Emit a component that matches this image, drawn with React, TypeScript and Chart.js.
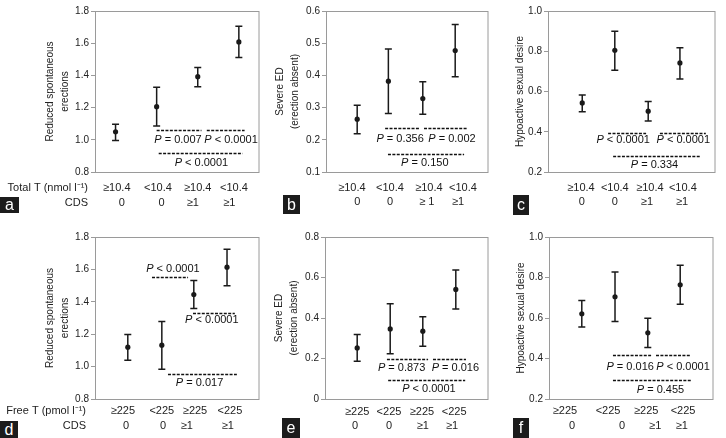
import React, { useEffect, useRef } from "react";
import { Chart, registerables } from "chart.js";

Chart.register(...registerables);

const FONT = "'Liberation Sans', Arial, Helvetica, sans-serif";
Chart.defaults.font.family = FONT;

// ---------- DATA ----------
const topRow1 = ["≥10.4", "<10.4", "≥10.4", "<10.4"];
const botRow1 = ["≥225", "<225", "≥225", "<225"];
const cdsRow = ["0", "0", "≥1", "≥1"];
const cdsRowB = ["0", "0", "≥ 1", "≥1"];
const topHeaders = ["Total T (nmol l\u207B\u00B9)", "CDS"];
const botHeaders = ["Free T (pmol l\u207B\u00B9)", "CDS"];
const titleErections = ["Reduced spontaneous", "erections"];
const titleSevere = ["Severe ED", "(erection absent)"];
const titleDesire = "Hypoactive sexual desire";

// panel a
const aX = [0.5, 1.5, 2.5, 3.5];
const aMean = [1.05, 1.206, 1.392, 1.608];
const aLow = [0.995, 1.085, 1.33, 1.511];
const aHigh = [1.097, 1.326, 1.449, 1.705];
const aRow1X = [0.53, 1.53, 2.5, 3.38];
const aRow2X = [0.65, 1.62, 2.38, 3.27];
const aDashes = [[1.5, 2.59, 1.058], [2.72, 3.64, 1.058], [1.55, 3.59, 0.92]];
const aP: [string, number, number][] = [["P = 0.007", 2.02, 1.0], ["P < 0.0001", 3.31, 1.0], ["P < 0.0001", 2.59, 0.858]];

// panel b
const bX = [0.77, 1.54, 2.39, 3.19];
const bMean = [0.264, 0.382, 0.328, 0.477];
const bLow = [0.219, 0.282, 0.279, 0.396];
const bHigh = [0.307, 0.482, 0.38, 0.558];
const bRow1X = [0.64, 1.58, 2.54, 3.38];
const bRow2X = [0.77, 1.58, 2.49, 3.26];
const bDashes = [[1.46, 2.3, 0.236], [2.42, 3.48, 0.236], [1.53, 3.41, 0.156]];
const bP: [string, number, number][] = [["P = 0.356", 1.83, 0.202], ["P = 0.002", 3.11, 0.202], ["P = 0.150", 2.44, 0.128]];

// panel c
const cX = [0.82, 1.6, 2.4, 3.16];
const cMean = [0.543, 0.805, 0.502, 0.742];
const cLow = [0.5, 0.705, 0.453, 0.662];
const cHigh = [0.583, 0.899, 0.55, 0.818];
const cRow1X = [0.79, 1.6, 2.44, 3.23];
const cRow2X = [0.81, 1.6, 2.37, 3.21];
const cDashes = [[1.44, 2.35, 0.395], [2.68, 3.78, 0.395], [1.56, 3.64, 0.28]];
const cP: [string, number, number][] = [["P < 0.0001", 1.8, 0.357], ["P < 0.0001", 3.24, 0.357], ["P = 0.334", 2.55, 0.233]];

// panel d
const dX = [0.8, 1.63, 2.41, 3.22];
const dMean = [1.12, 1.132, 1.445, 1.614];
const dLow = [1.039, 0.983, 1.359, 1.499];
const dHigh = [1.198, 1.278, 1.532, 1.724];
const dRow1X = [0.68, 1.63, 2.44, 3.29];
const dRow2X = [0.76, 1.66, 2.24, 3.24];
const dDashes = [[1.39, 2.27, 1.555], [2.39, 3.41, 1.332], [1.78, 3.46, 0.957]];
const dP: [string, number, number][] = [["P < 0.0001", 1.9, 1.604], ["P < 0.0001", 2.85, 1.287], ["P = 0.017", 2.55, 0.897]];

// panel e
const eX = [0.79, 1.6, 2.4, 3.21];
const eMean = [0.252, 0.346, 0.335, 0.541];
const eLow = [0.186, 0.223, 0.261, 0.444];
const eHigh = [0.318, 0.47, 0.406, 0.637];
const eRow1X = [0.79, 1.57, 2.38, 3.17];
const eRow2X = [0.74, 1.57, 2.4, 3.12];
const eDashes = [[1.52, 2.53, 0.196], [2.65, 3.46, 0.196], [1.55, 3.44, 0.092]];
const eP: [string, number, number][] = [["P = 0.873", 1.88, 0.152], ["P = 0.016", 3.2, 0.152], ["P < 0.0001", 2.55, 0.051]];

// panel f
const fX = [0.8, 1.61, 2.41, 3.2];
const fMean = [0.621, 0.705, 0.527, 0.764];
const fLow = [0.555, 0.583, 0.454, 0.668];
const fHigh = [0.687, 0.827, 0.599, 0.86];
const fRow1X = [0.39, 1.44, 2.37, 3.27];
const fRow2X = [0.56, 1.78, 2.59, 3.24];
const fDashes = [[1.56, 2.49, 0.418], [2.61, 3.46, 0.418], [1.56, 3.46, 0.292]];
const fP: [string, number, number][] = [["P = 0.016", 1.98, 0.357], ["P < 0.0001", 3.27, 0.357], ["P = 0.455", 2.72, 0.246]];

const letterNames = ["a", "b", "c", "d", "e", "f"];

// ---------- LAYOUT ----------
type Spec = {
  key: string;
  box: number[]; // canvas left, top, width, height
  pad: number[]; // left, top, right, bottom
  yWidth: number;
  titlePad: number;
  yMin: number;
  yMax: number;
  yStep: number;
  title: string | string[];
  xs: number[];
  mean: number[];
  low: number[];
  high: number[];
  row1: string[];
  row1X: number[];
  row2: string[];
  row2X: number[];
  rowDy: number[];
  headers?: string[];
  headerX?: number;
  dashes: number[][];
  pvals: [string, number, number][];
};

const specs: Spec[] = [
  { key: "a", box: [0, 0, 262, 219], pad: [0, 11, 2, 47], yWidth: 95, titlePad: 42.5, yMin: 0.8, yMax: 1.8, yStep: 0.2, title: titleErections, xs: aX, mean: aMean, low: aLow, high: aHigh, row1: topRow1, row1X: aRow1X, row2: cdsRow, row2X: aRow2X, rowDy: [16, 31], headers: topHeaders, headerX: 88, dashes: aDashes, pvals: aP },
  { key: "b", box: [262, 0, 230, 219], pad: [0, 11, 4, 47], yWidth: 64, titlePad: 10.5, yMin: 0.1, yMax: 0.6, yStep: 0.1, title: titleSevere, xs: bX, mean: bMean, low: bLow, high: bHigh, row1: topRow1, row1X: bRow1X, row2: cdsRowB, row2X: bRow2X, rowDy: [16, 30], dashes: bDashes, pvals: bP },
  { key: "c", box: [492, 0, 234, 219], pad: [0, 11, 11, 47], yWidth: 56, titlePad: 20.5, yMin: 0.2, yMax: 1.0, yStep: 0.2, title: titleDesire, xs: cX, mean: cMean, low: cLow, high: cHigh, row1: topRow1, row1X: cRow1X, row2: cdsRow, row2X: cRow2X, rowDy: [16, 30], dashes: cDashes, pvals: cP },
  { key: "d", box: [0, 219, 262, 219], pad: [0, 18, 3, 39], yWidth: 95, titlePad: 42.5, yMin: 0.8, yMax: 1.8, yStep: 0.2, title: titleErections, xs: dX, mean: dMean, low: dLow, high: dHigh, row1: botRow1, row1X: dRow1X, row2: cdsRow, row2X: dRow2X, rowDy: [12, 27], headers: botHeaders, headerX: 86, dashes: dDashes, pvals: dP },
  { key: "e", box: [262, 219, 230, 219], pad: [0, 18, 4, 39], yWidth: 63, titlePad: 9.5, yMin: 0, yMax: 0.8, yStep: 0.2, title: titleSevere, xs: eX, mean: eMean, low: eLow, high: eHigh, row1: botRow1, row1X: eRow1X, row2: cdsRow, row2X: eRow2X, rowDy: [13, 27], dashes: eDashes, pvals: eP },
  { key: "f", box: [492, 219, 234, 219], pad: [0, 18, 13, 39], yWidth: 57, titlePad: 21.5, yMin: 0.2, yMax: 1.0, yStep: 0.2, title: titleDesire, xs: fX, mean: fMean, low: fLow, high: fHigh, row1: botRow1, row1X: fRow1X, row2: cdsRow, row2X: fRow2X, rowDy: [12, 27], dashes: fDashes, pvals: fP },
];

const letterBoxes = [
  [0, 197, 19, 16],
  [283, 195, 17, 19],
  [513, 195, 16, 20],
  [0, 421, 18, 17],
  [282, 418, 18, 20],
  [513, 418, 16, 20],
];

const INK = "#1a1a1a";
const FRAME = "#9a9a9a";

function makePlugin(spec: Spec) {
  return {
    id: "panelDraw" + spec.key,
    beforeDatasetsDraw(chart: any) {
      const ctx = chart.ctx;
      const xs = chart.scales.x;
      const ys = chart.scales.y;
      ctx.save();
      ctx.strokeStyle = INK;
      ctx.lineWidth = 1.5;
      for (let i = 0; i < spec.xs.length; i++) {
        const px = xs.getPixelForValue(spec.xs[i]);
        const yl = ys.getPixelForValue(spec.low[i]);
        const yh = ys.getPixelForValue(spec.high[i]);
        ctx.beginPath();
        ctx.moveTo(px, yh);
        ctx.lineTo(px, yl);
        ctx.moveTo(px - 3.5, yh);
        ctx.lineTo(px + 3.5, yh);
        ctx.moveTo(px - 3.5, yl);
        ctx.lineTo(px + 3.5, yl);
        ctx.stroke();
      }
      ctx.restore();
    },
    afterDraw(chart: any) {
      const ctx = chart.ctx;
      const xs = chart.scales.x;
      const ys = chart.scales.y;
      const ca = chart.chartArea;
      ctx.save();
      // frame
      ctx.strokeStyle = FRAME;
      ctx.lineWidth = 1;
      ctx.strokeRect(Math.round(ca.left) + 0.5, Math.round(ca.top) + 0.5, Math.round(ca.right - ca.left) - 0.5, Math.round(ca.bottom - ca.top));
      // dashed comparison lines
      ctx.strokeStyle = "#111";
      ctx.lineWidth = 1.3;
      ctx.setLineDash([3, 1.4]);
      for (const d of spec.dashes) {
        const y = Math.round(ys.getPixelForValue(d[2])) + 0.5;
        ctx.beginPath();
        ctx.moveTo(xs.getPixelForValue(d[0]), y);
        ctx.lineTo(xs.getPixelForValue(d[1]), y);
        ctx.stroke();
      }
      ctx.setLineDash([]);
      // P values
      ctx.fillStyle = "#111";
      ctx.textBaseline = "middle";
      ctx.textAlign = "left";
      for (const p of spec.pvals) {
        const txt = p[0];
        const head = txt.slice(0, 1);
        const rest = txt.slice(1);
        ctx.font = `italic 11px ${FONT}`;
        const w1 = ctx.measureText(head).width;
        ctx.font = `11px ${FONT}`;
        const w2 = ctx.measureText(rest).width;
        const cx = xs.getPixelForValue(p[1]);
        const cy = ys.getPixelForValue(p[2]);
        const x0 = cx - (w1 + w2) / 2;
        ctx.font = `italic 11px ${FONT}`;
        ctx.fillText(head, x0, cy);
        ctx.font = `11px ${FONT}`;
        ctx.fillText(rest, x0 + w1, cy);
      }
      // category label rows
      ctx.fillStyle = "#222";
      ctx.font = `11px ${FONT}`;
      ctx.textAlign = "center";
      const r1y = ca.bottom + spec.rowDy[0];
      const r2y = ca.bottom + spec.rowDy[1];
      spec.row1.forEach((t, i) => ctx.fillText(t, xs.getPixelForValue(spec.row1X[i]), r1y));
      spec.row2.forEach((t, i) => ctx.fillText(t, xs.getPixelForValue(spec.row2X[i]), r2y));
      if (spec.headers) {
        ctx.textAlign = "right";
        ctx.fillText(spec.headers[0], spec.headerX, r1y);
        ctx.fillText(spec.headers[1], spec.headerX, r2y);
      }
      ctx.restore();
    },
  };
}

function Panel({ spec }: { spec: Spec }) {
  const ref = useRef<HTMLCanvasElement | null>(null);
  useEffect(() => {
    if (!ref.current) return;
    const chart = new Chart(ref.current, {
      type: "scatter",
      data: {
        datasets: [
          {
            data: spec.xs.map((x, i) => ({ x, y: spec.mean[i] })),
            backgroundColor: INK,
            borderColor: INK,
            pointRadius: 2.6,
            pointHoverRadius: 2.6,
            borderWidth: 0,
          },
        ],
      },
      options: {
        animation: false,
        responsive: false,
        devicePixelRatio: 1,
        events: [],
        layout: { padding: { left: spec.pad[0], top: spec.pad[1], right: spec.pad[2], bottom: spec.pad[3] } },
        plugins: { legend: { display: false }, tooltip: { enabled: false } },
        scales: {
          x: { type: "linear", min: 0, max: 4, display: false },
          y: {
            type: "linear",
            min: spec.yMin,
            max: spec.yMax,
            afterFit: (scale: any) => {
              scale.width = spec.yWidth;
            },
            ticks: {
              stepSize: spec.yStep,
              padding: 2,
              color: "#222",
              font: { size: 10, family: FONT },
              callback: (v: any) => (Math.abs(Number(v)) < 1e-9 ? "0" : Number(v).toFixed(1)),
            },
            grid: { display: true, drawOnChartArea: false, drawTicks: true, tickLength: 4, color: FRAME },
            border: { display: true, color: FRAME, width: 1 },
            title: {
              display: true,
              text: spec.title,
              color: "#222",
              font: { size: 10, family: FONT, lineHeight: 1.5 },
              padding: { top: spec.titlePad, bottom: 0 },
            },
          },
        },
      },
      plugins: [makePlugin(spec)],
    } as any);
    return () => chart.destroy();
  }, [spec]);
  const [l, t, w, h] = spec.box;
  return (
    <canvas
      ref={ref}
      width={w}
      height={h}
      style={{ position: "absolute", left: l, top: t, width: w, height: h }}
    />
  );
}

export default function App() {
  return (
    <div style={{ position: "absolute", left: 0, top: 0, width: 726, height: 438, background: "#fff", overflow: "hidden" }}>
      {specs.map((s) => (
        <Panel key={s.key} spec={s} />
      ))}
      {letterBoxes.map((b, i) => (
        <div
          key={letterNames[i]}
          style={{
            position: "absolute",
            left: b[0],
            top: b[1],
            width: b[2],
            height: b[3],
            background: "#1c1c1c",
            color: "#fff",
            fontFamily: FONT,
            fontSize: 16,
            lineHeight: b[3] + "px",
            textAlign: "center",
          }}
        >
          {letterNames[i]}
        </div>
      ))}
    </div>
  );
}
